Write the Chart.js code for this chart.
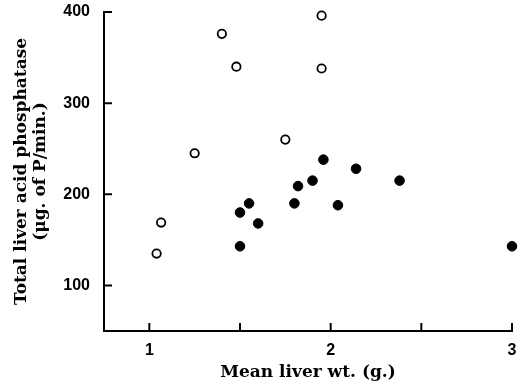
<!DOCTYPE html>
<html>
<head>
<meta charset="utf-8">
<script src="https://cdn.jsdelivr.net/npm/chart.js@4"></script>
<style>
  html,body{margin:0;padding:0;background:#fff;}
  #wrap{width:520px;height:392px;position:relative;}
</style>
</head>
<body>
<div id="wrap"><canvas id="graf"></canvas></div>
<script>
// open circles
const abertosX = [1.40, 1.48, 1.95, 1.95, 1.25, 1.75, 1.065, 1.04];
const abertosY = [376, 340, 396, 338, 245, 260, 169, 135];
// filled circles
const cheiosX = [1.96, 2.14, 1.90, 1.82, 2.38, 1.55, 1.80, 2.04, 1.50, 1.60, 1.50, 3.00];
const cheiosY = [238, 228, 215, 209, 215, 190, 190, 188, 180, 168, 143, 143];

const ticksX = [1, 1.5, 2, 2.5, 3];
const ticksY = [100, 200, 300, 400];

const tituloX = "Mean liver wt. (g.)";
const tituloY = ["Total liver acid phosphatase", "(\u03bcg. of P/min.)"];

function pontos(xs, ys){
  return xs.map((x,i)=>({x:x, y:ys[i]}));
}

// ticks drawn inward, like the original figure
const ticksDentro = {
  id:"ticksDentro",
  afterDraw(chart){
    const ctx = chart.ctx;
    const sx = chart.scales.x, sy = chart.scales.y;
    const len = 8;
    ctx.save();
    ctx.strokeStyle = "#000";
    ctx.lineWidth = 2;
    ctx.beginPath();
    ticksX.forEach(v=>{
      const px = sx.getPixelForValue(v);
      ctx.moveTo(px, sy.bottom);
      ctx.lineTo(px, sy.bottom - len);
    });
    ticksY.forEach(v=>{
      const py = sy.getPixelForValue(v);
      ctx.moveTo(sx.left, py);
      ctx.lineTo(sx.left + len, py);
    });
    ctx.stroke();
    ctx.restore();
  }
};

const fonteTick = {family:"'Liberation Sans Narrow', 'Liberation Sans', Arial, sans-serif", size:16, weight:"bold"};
const fonteTitulo = {family:"'DejaVu Serif', 'Liberation Serif', serif", size:17, weight:"bold"};

new Chart(document.getElementById("graf"),{
  type:"scatter",
  data:{
    datasets:[
      {
        label:"aberto",
        data:pontos(abertosX, abertosY),
        pointRadius:4.2,
        pointBorderWidth:1.8,
        pointBackgroundColor:"#fff",
        pointBorderColor:"#000",
        clip:false
      },
      {
        label:"cheio",
        data:pontos(cheiosX, cheiosY),
        pointRadius:4.8,
        pointBorderWidth:1,
        pointBackgroundColor:"#000",
        pointBorderColor:"#000",
        clip:false
      }
    ]
  },
  options:{
    responsive:true,
    maintainAspectRatio:false,
    animation:false,
    layout:{padding:{top:12, right:8, left:0, bottom:0}},
    plugins:{legend:{display:false}, tooltip:{enabled:false}},
    scales:{
      x:{
        type:"linear",
        min:0.75,
        max:3,
        afterBuildTicks(s){ s.ticks = ticksX.map(v=>({value:v})); },
        afterFit(s){ s.height = 61; },
        // invisible tick length only spaces the labels from the axis
        grid:{display:false, drawTicks:true, tickLength:10, color:"rgba(0,0,0,0)"},
        border:{display:true, color:"#000", width:2},
        ticks:{
          color:"#000",
          font:fonteTick,
          padding:0,
          maxRotation:0,
          autoSkip:false,
          callback:(v)=> Number.isInteger(v) ? String(v) : ""
        },
        title:{display:true, text:tituloX, color:"#000", font:fonteTitulo, padding:{top:0,bottom:9}}
      },
      y:{
        type:"linear",
        min:50,
        max:400,
        afterBuildTicks(s){ s.ticks = ticksY.map(v=>({value:v})); },
        afterFit(s){ s.width = 104; },
        grid:{display:false, drawTicks:true, tickLength:14, color:"rgba(0,0,0,0)"},
        border:{display:true, color:"#000", width:2},
        ticks:{
          color:"#000",
          font:fonteTick,
          padding:0,
          autoSkip:false,
          callback:(v)=> String(v)
        },
        title:{display:true, text:tituloY, color:"#000", font:Object.assign({}, fonteTitulo, {lineHeight:1.12}), padding:{top:12,bottom:0}}
      }
    }
  },
  plugins:[ticksDentro]
});
</script>
</body>
</html>
